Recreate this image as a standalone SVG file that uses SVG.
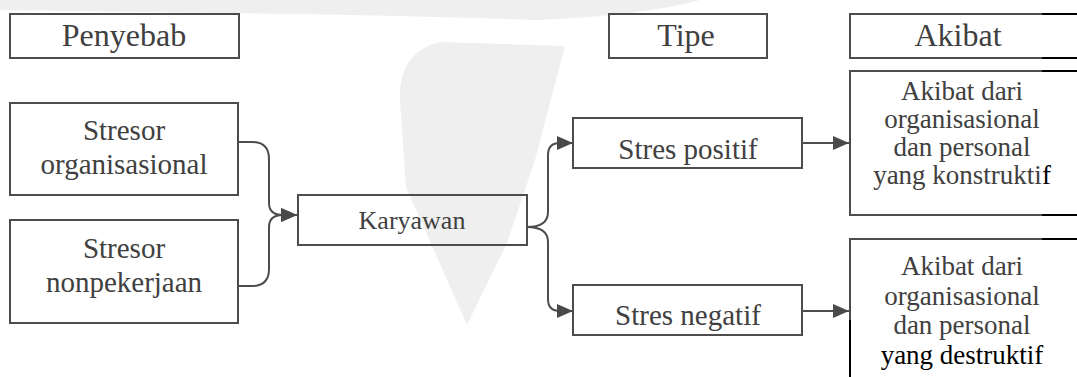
<svg xmlns="http://www.w3.org/2000/svg" width="1077" height="377" viewBox="0 0 1077 377">
<defs>
<style>
.box{fill:none;stroke:#4d4d4d;stroke-width:2}
.blk{fill:none;stroke:#000;stroke-width:2}
.t{font-family:"Liberation Serif","Times New Roman",serif;fill:#404040;text-anchor:middle}
.h{font-size:32px}
.c{fill:none;stroke:#4d4d4d;stroke-width:2}
.wm{fill:#efefef;stroke:none}
</style>
<marker id="ah" viewBox="0 0 16 14" refX="16" refY="7" markerWidth="16" markerHeight="14" markerUnits="userSpaceOnUse" orient="auto"><path d="M0,0 L16,7 L0,14 Z" fill="#4a4a4a"/></marker>
<clipPath id="cp1"><rect x="573" y="118" width="229" height="50"/></clipPath>
<clipPath id="cp2"><rect x="573" y="285" width="229" height="50"/></clipPath>
</defs>
<rect width="1077" height="377" fill="#fff"/>
<g id="watermark">
<path class="wm" d="M0,0 H700 Q640,16 537,20 Q420,16 300,14 Q150,12 0,10 Z"/>
<path class="wm" d="M400,100 Q398,52 440,42 L565,46 L535,160 L507,243 L467,325 L406,187 Z"/>
</g>

<g id="penyebab">
<rect class="box" x="10" y="14" width="229" height="44"/>
<text class="t h" x="124" y="46">Penyebab</text>
</g>
<g id="tipe">
<rect class="box" x="609" y="14" width="158" height="44"/>
<text class="t h" x="686" y="46">Tipe</text>
</g>
<g id="akibat">
<path class="box" d="M1042,14 H850 V58 H1042"/>
<path class="blk" d="M1042,14 H1077 M1042,58 H1077"/>
<text class="t h" x="958" y="46">Akibat</text>
</g>
<g id="stresor-org">
<rect class="box" x="10" y="103" width="228" height="92"/>
<text class="t" x="124" y="140" font-size="29">Stresor</text>
<text class="t" x="124" y="174" font-size="29">organisasional</text>
</g>
<g id="stresor-non">
<rect class="box" x="10" y="220" width="228" height="103"/>
<text class="t" x="124" y="258" font-size="29">Stresor</text>
<text class="t" x="124" y="292" font-size="29">nonpekerjaan</text>
</g>
<g id="karyawan">
<rect class="box" x="298" y="195" width="229" height="50"/>
<text class="t" x="412" y="229" font-size="26">Karyawan</text>
</g>
<g id="stres-positif">
<rect class="box" x="573" y="118" width="229" height="50"/>
<text class="t" x="688" y="159" font-size="29" clip-path="url(#cp1)">Stres positif</text>
</g>
<g id="stres-negatif">
<rect class="box" x="573" y="285" width="229" height="50"/>
<text class="t" x="688" y="325" font-size="29" clip-path="url(#cp2)">Stres negatif</text>
</g>
<g id="akibat-konstruktif">
<path class="box" d="M1042,71 H850 V215 H1042"/>
<path class="blk" d="M1042,71 H1077 M1042,215 H1077"/>
<text class="t" x="962" y="100" font-size="27">Akibat dari</text>
<text class="t" x="962" y="128" font-size="27">organisasional</text>
<text class="t" x="962" y="156" font-size="27">dan personal</text>
<text class="t" x="962" y="184" font-size="27">yang konstrukti<tspan fill="#000">f</tspan></text>
</g>
<g id="akibat-destruktif">
<path class="box" d="M1042,239 H850 V320"/>
<path class="blk" d="M850,320 V377 M1042,239 H1077"/>
<text class="t" x="962" y="275" font-size="27">Akibat dari</text>
<text class="t" x="962" y="304.5" font-size="27">organisasional</text>
<text class="t" x="962" y="334" font-size="27">dan personal</text>
<text class="t" x="962" y="363.5" font-size="27" style="fill:#000">yang destruktif</text>
</g>

<g id="connectors">
<path class="c" d="M238,142 H252 Q269,142 269,159 V203 Q269,215 283,215 H297" marker-end="url(#ah)"/>
<path class="c" d="M238,286 H252 Q269,286 269,269 V227 Q269,215 283,215 H297" marker-end="url(#ah)"/>
<path class="c" d="M527,227 Q548,227 548,212 V155 Q548,143 560,143 H573" marker-end="url(#ah)"/>
<path class="c" d="M527,227 Q548,227 548,242 V299 Q548,311 560,311 H573" marker-end="url(#ah)"/>
<path class="c" d="M802,143 H849" marker-end="url(#ah)"/>
<path class="c" d="M802,311 H849" marker-end="url(#ah)"/>
</g>
</svg>
